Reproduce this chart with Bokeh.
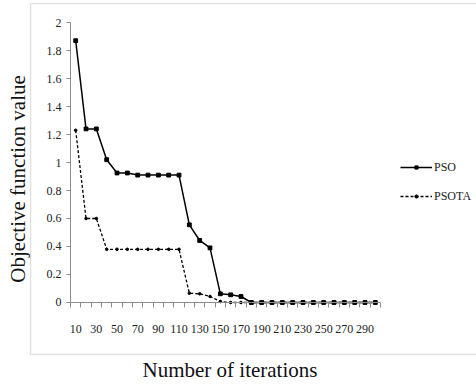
from bokeh.plotting import figure
from bokeh.models import (Range1d, FixedTicker, Legend, LegendItem, BoxAnnotation,
                          ColumnDataSource, CustomJSTickFormatter, LinearAxis, Title)
from bokeh.embed import file_html
from bokeh.resources import INLINE

iterations = [10, 20, 30, 40, 50, 60, 70, 80, 90, 100, 110, 120, 130, 140, 150,
              160, 170, 180, 190, 200, 210, 220, 230, 240, 250, 260, 270, 280, 290, 300]
pso = [1.87, 1.24, 1.24, 1.02, 0.925, 0.925, 0.91, 0.91, 0.91, 0.91, 0.91, 0.555, 0.443, 0.39, 0.062,
       0.055, 0.043, 0, 0, 0, 0, 0, 0, 0, 0, 0, 0, 0, 0, 0]
psota = [1.23, 0.60, 0.60, 0.38, 0.38, 0.38, 0.38, 0.38, 0.38, 0.38, 0.38, 0.066, 0.062, 0.043, 0.007,
         0, 0, 0, 0, 0, 0, 0, 0, 0, 0, 0, 0, 0, 0, 0]
x_tick_labels = [10, 30, 50, 70, 90, 110, 130, 150, 170, 190, 210, 230, 250, 270, 290]
y_ticks = [0, 0.2, 0.4, 0.6, 0.8, 1.0, 1.2, 1.4, 1.6, 1.8, 2.0]

src = ColumnDataSource(dict(x=iterations, pso=pso, psota=psota))

# frame covers the whole chart box; the value axes sit inside it at fixed locations
p = figure(width=476, height=389, output_backend="svg", toolbar_location=None,
           x_range=Range1d(-34.7, 397.9), y_range=Range1d(-0.3786, 2.1429),
           x_axis_type=None, y_axis_type=None,
           min_border_left=29, min_border_right=0, min_border_top=2, min_border_bottom=34)
p.outline_line_color = None
p.grid.visible = False
p.background_fill_color = "white"
p.border_fill_color = "white"

tick_font = "Liberation Sans Narrow"
serif = "Liberation Serif"
grey = "#8c8c8c"

# value x axis
xa = LinearAxis(fixed_location=0, bounds=(5, 305))
xa.ticker = FixedTicker(ticks=x_tick_labels, minor_ticks=[5 + 10 * i for i in range(31)])
xa.major_tick_out = 0
xa.major_tick_in = 0
xa.minor_tick_out = 5
xa.minor_tick_in = 0
xa.minor_tick_line_color = grey
xa.axis_line_color = grey
xa.major_label_standoff = 18
xa.major_label_text_font = tick_font
xa.major_label_text_font_size = "12px"
xa.major_label_text_color = "#222222"
p.add_layout(xa, "below")

# value y axis
ya = LinearAxis(fixed_location=5, bounds=(0, 2))
ya.ticker = FixedTicker(ticks=y_ticks)
ya.formatter = CustomJSTickFormatter(code="return String(Math.round(tick*10)/10);")
ya.major_tick_out = 4
ya.major_tick_in = 0
ya.minor_tick_out = 0
ya.minor_tick_in = 0
ya.major_tick_line_color = grey
ya.axis_line_color = grey
ya.major_label_standoff = 5
ya.major_label_text_font = tick_font
ya.major_label_text_font_size = "12px"
ya.major_label_text_color = "#222222"
p.add_layout(ya, "left")

# titles outside the box
xt = Title(text="Number of iterations", align="left", offset=113,
           text_font=serif, text_font_size="21px", text_font_style="normal",
           text_color="#111111", standoff=0)
p.add_layout(xt, "below")

yt = LinearAxis(ticker=FixedTicker(ticks=[]), axis_label="Objective function value")
yt.axis_line_color = None
yt.major_tick_line_color = None
yt.minor_tick_line_color = None
yt.axis_label_text_font = serif
yt.axis_label_text_font_size = "21px"
yt.axis_label_text_font_style = "normal"
yt.axis_label_text_color = "#111111"
yt.axis_label_standoff = 0
p.add_layout(yt, "left")

# chart box border (right side falls outside the window)
box = BoxAnnotation(left=30, right=520, top=3, bottom=354,
                    left_units="canvas", right_units="canvas",
                    top_units="canvas", bottom_units="canvas",
                    fill_alpha=0, line_color="#9a9a9a", line_width=1.5)
p.add_layout(box)

l1 = p.line("x", "pso", source=src, line_color="black", line_width=1.5)
s1 = p.scatter("x", "pso", source=src, marker="square", size=3.8, color="black")
l2 = p.line("x", "psota", source=src, line_color="black", line_width=1.3, line_dash="3 2")
s2 = p.scatter("x", "psota", source=src, marker="circle", size=2.6, color="black")

legend = Legend(items=[LegendItem(label="PSO", renderers=[l1, s1]),
                       LegendItem(label="PSOTA", renderers=[l2, s2])],
                location=(371, 149), orientation="vertical",
                glyph_width=32, glyph_height=8, label_height=20,
                label_standoff=2, spacing=9,
                label_text_font=tick_font, label_text_font_size="12px",
                label_text_color="#222222", padding=0, margin=0,
                background_fill_alpha=0, border_line_color=None)
p.add_layout(legend, "center")

open("out.html", "w").write(file_html(p, INLINE))
